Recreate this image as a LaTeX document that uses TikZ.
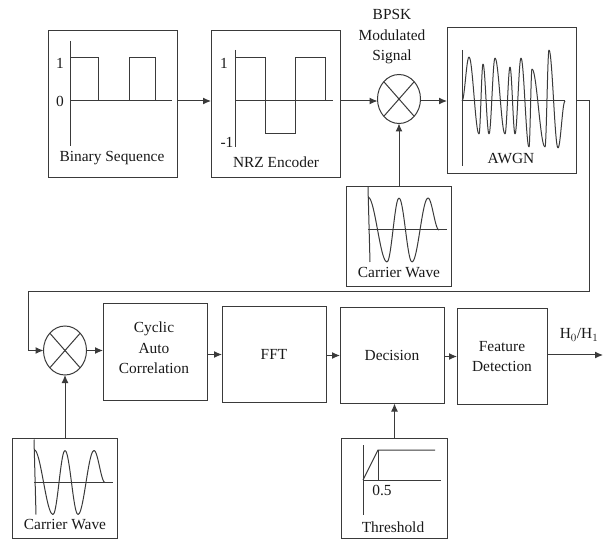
\documentclass[tikz,border=0pt]{standalone}
\usepackage{fontspec}
\setmainfont{Liberation Serif}
\usetikzlibrary{arrows.meta,positioning,shapes.geometric}
\definecolor{LineGray}{HTML}{3A3A3A}
\newcommand{\halfwaves}[3]{%
  \foreach \xb/\yb [remember=\xb as \xa (initially #1),remember=\yb as \ya (initially #2)] in {#3} {
    \draw[plotline] plot[domain=0:1,samples=13,smooth] ({\xa+(\xb-\xa)*\x},{\ya+(\yb-\ya)*(1-cos(180*\x))/2});
  }}
\newcommand{\carrierplot}[1]{%
  \begin{scope}[shift={#1}]
    \draw[plotline] (368,187) -- (370,262);
    \draw[plotline] (368,230) -- (447,230);
    \halfwaves{368}{197}{387/262,399/198,412/262,428/198,439/230}
  \end{scope}}

\begin{document}
\begin{tikzpicture}[x=1pt,y=-1pt, >={Latex[length=8pt,width=7pt]},
  every node/.style={align=center, font=\fontsize{15.4}{20.5}\selectfont, text=black!90},
  block/.style={draw=LineGray,line width=1pt,inner sep=0pt,outer sep=0pt},
  plotbox/.style={block,minimum width=129pt,minimum height=147pt},
  carrierbox/.style={block,minimum width=105.5pt,minimum height=100pt},
  procbox/.style={block,minimum width=104pt,minimum height=96pt},
  mixer/.style={ellipse,draw=LineGray,line width=1pt,inner sep=0pt,outer sep=0pt,minimum width=43pt,minimum height=49pt},
  plotline/.style={draw=LineGray,line width=1pt},
  link/.style={->,draw=LineGray,line width=1pt}]
  \useasboundingbox (0,0) rectangle (603,540);

  \node[plotbox] (binary) at (112.5,104.5) {};
  \node[plotbox,right=34pt of binary] (nrz) {};
  \node[mixer,right=37.5pt of nrz,yshift=5.5pt] (mixone) {};
  \node[plotbox,minimum height=146pt,right=26.5pt of mixone,yshift=-2pt] (awgn) {};
  \node[carrierbox,below=63.5pt of mixone] (carrierone) {};

  \node[mixer] (mixtwo) at (65,350.5) {};
  \node[procbox,right=16.5pt of mixtwo,yshift=-1.5pt] (cyclic) {};
  \node[procbox,right=15pt of cyclic,yshift=-2.5pt] (fft) {FFT};
  \node[procbox,right=14pt of fft,yshift=-1pt] (decision) {Decision};
  \node[procbox,minimum width=90pt,right=13pt of decision,yshift=-1pt] (feature) {Feature\\Detection};
  \node[carrierbox,below=63.5pt of mixtwo] (carriertwo) {};
  \node[carrierbox,below=35pt of decision,xshift=2.5pt] (threshold) {};

  \node (binarytext) at (112,158) {Binary Sequence};
  \node (nrztext) at (276,162) {NRZ Encoder};
  \node (awgntext) at (511,159) {AWGN};
  \node (carrieronetext) at (399,273) {Carrier Wave};
  \node (carriertwotext) at (65,525) {Carrier Wave};
  \node (thresholdtext) at (393,527) {Threshold};
  \node (bpsktext) at (392,37) {BPSK\\Modulated\\Signal};
  \node (cyclictext) at (154,348) {Cyclic\\Auto\\Correlation};
  \node (hypotext) at (579,335) {H$_0$/H$_1$};
  \node (binaryone) at (60,63) {1};
  \node (binaryzero) at (60,101) {0};
  \node (nrzone) at (224,63) {1};
  \node (nrzminus) at (227,142) {-1};
  \node (halfmark) at (382,490) {0.5};

  \draw[plotline] (70,41) -- (70,146);
  \draw[plotline] (70,101) -- (172,101);
  \draw[plotline] (70,58) -- (98.5,58) -- (98.5,101);
  \draw[plotline] (129,101) -- (129,58) -- (155,58) -- (155,101);

  \draw[plotline] (235,50) -- (235,147);
  \draw[plotline] (235,101) -- (333,101);
  \draw[plotline] (235,58) -- (265.5,58) -- (265.5,134) -- (295.5,134) -- (295.5,58) -- (325,58) -- (325,101);

  \draw[plotline] (462,50) -- (462,166);
  \draw[plotline] (462,101) -- (565,101);
  \halfwaves{462}{101}{469/57,479/134,483/64,489/134,495/58,505/134,510/67,515/134,521/58,529/147,532/69,545/147,549/50,558/148,565/101}

  \carrierplot{(0,0)}
  \carrierplot{(-334,252.5)}

  \draw[plotline] (363,445) -- (363,515);
  \draw[plotline] (363,480) -- (441,480);
  \draw[plotline] (363,480) -- (378,450) -- (435,450);
  \draw[plotline] (378,450) -- (378,480);

  \foreach \mix in {mixone,mixtwo} {
    \draw[plotline] (\mix.north west) -- (\mix.south east);
    \draw[plotline] (\mix.north east) -- (\mix.south west);
  }

  \coordinate (toprow) at (0,101);
  \coordinate (fbright) at (589,292);
  \coordinate (fbleft) at (28,292);
  \coordinate (output) at (603,355);

  \draw[link] (binary.east |- toprow) -- (nrz.west |- toprow);
  \draw[link] (nrz.east |- toprow) -- (mixone.west |- toprow);
  \draw[link] (mixone.east |- toprow) -- (awgn.west |- toprow);
  \draw[link] (carrierone.north) -- (mixone.south);
  \draw[link] (awgn.east |- toprow) -| (fbright) -- (fbleft) |- (mixtwo.west);
  \draw[link] (carriertwo.north) -- (mixtwo.south);
  \draw[link] (mixtwo.east) -- (mixtwo.east -| cyclic.west);
  \draw[link] (cyclic.east |- fft.west) -- (fft.west);
  \draw[link] (fft.east |- decision.west) -- (decision.west);
  \draw[link] (decision.east |- feature.west) -- (feature.west);
  \draw[link] (feature.east |- output) -- (output);
  \draw[link] (threshold.north) -- (threshold.north |- decision.south);
\end{tikzpicture}
\end{document}
